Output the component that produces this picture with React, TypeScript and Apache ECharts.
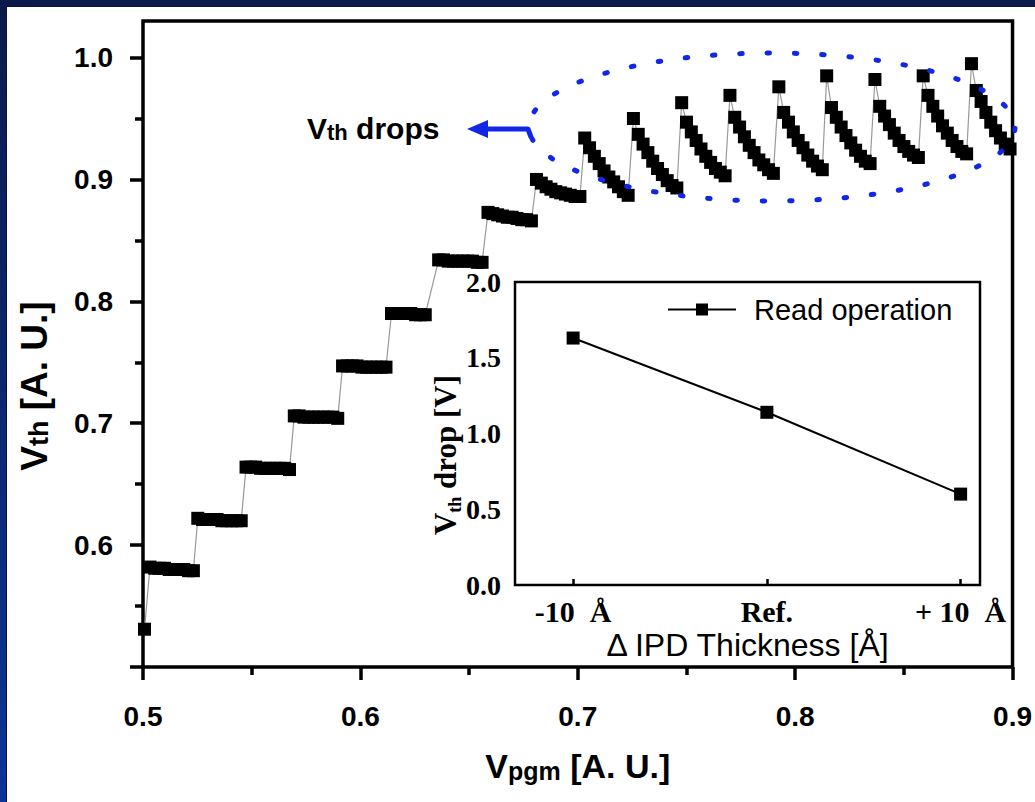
import React, { useEffect, useRef } from "react";
import * as echarts from "echarts";

// ---------- data ----------
// main plot: program voltage (x) vs threshold voltage (y), one group of read points per program pulse
const stepStartVpgm = [
  0.5007, 0.5032, 0.5252, 0.5474, 0.5696, 0.5918, 0.6143, 0.636, 0.6587, 0.681,
  0.7032, 0.7256, 0.7478, 0.77, 0.7925, 0.8145, 0.8367, 0.8589, 0.8811,
];
const readSpacingVpgm = 0.00222;
const stepVth: number[][] = [
  [0.531],
  [0.582, 0.581, 0.581, 0.581, 0.58, 0.58, 0.58, 0.58, 0.579, 0.579],
  [0.622, 0.621, 0.621, 0.621, 0.621, 0.62, 0.62, 0.62, 0.62, 0.62],
  [0.664, 0.664, 0.664, 0.663, 0.663, 0.663, 0.663, 0.663, 0.663, 0.662],
  [0.706, 0.706, 0.705, 0.705, 0.705, 0.705, 0.705, 0.705, 0.705, 0.704],
  [0.747, 0.747, 0.747, 0.747, 0.746, 0.746, 0.746, 0.746, 0.746, 0.746],
  [0.79, 0.79, 0.79, 0.79, 0.79, 0.789, 0.789, 0.789],
  [0.834, 0.834, 0.833, 0.833, 0.833, 0.833, 0.833, 0.833, 0.832, 0.832],
  [0.873, 0.872, 0.871, 0.87, 0.869, 0.869, 0.868, 0.867, 0.867, 0.866],
  [0.9, 0.897, 0.894, 0.892, 0.89, 0.889, 0.888, 0.887, 0.886, 0.886],
  [0.934, 0.926, 0.919, 0.913, 0.907, 0.902, 0.898, 0.894, 0.89, 0.887],
  [0.95, 0.937, 0.929, 0.922, 0.915, 0.909, 0.904, 0.899, 0.895, 0.893],
  [0.963, 0.947, 0.939, 0.932, 0.925, 0.919, 0.914, 0.909, 0.906, 0.903],
  [0.969, 0.951, 0.943, 0.935, 0.928, 0.922, 0.916, 0.912, 0.908, 0.905],
  [0.976, 0.955, 0.947, 0.939, 0.932, 0.926, 0.92, 0.915, 0.911, 0.908],
  [0.985, 0.959, 0.951, 0.943, 0.936, 0.93, 0.924, 0.919, 0.915, 0.913],
  [0.982, 0.96, 0.952, 0.945, 0.938, 0.932, 0.927, 0.923, 0.92, 0.918],
  [0.985, 0.969, 0.96, 0.952, 0.944, 0.938, 0.932, 0.927, 0.923, 0.921],
  [0.995, 0.973, 0.964, 0.955, 0.947, 0.94, 0.934, 0.929, 0.925, 0.922],
];
const mainXTicks = [0.5, 0.6, 0.7, 0.8, 0.9];
const mainYMajorTicks = [0.5, 0.6, 0.7, 0.8, 0.9, 1.0];
const mainYMinorTicks = [0.55, 0.65, 0.75, 0.85, 0.95];
const mainYTickLabels = [0.6, 0.7, 0.8, 0.9, 1.0];

// inset: Vth drop vs IPD thickness
const insetCategories = ["-10  Å", "Ref.", "+ 10  Å"];
const insetOffsets = [-10, 0, 10];
const insetVthDrop = [1.63, 1.14, 0.6];
const insetSeriesName = "Read operation";

// ---------- styling ----------
const SANS = '"Liberation Sans", Arial, sans-serif';
const SERIF = '"Liberation Serif", "Times New Roman", serif';
const BLUE = "#1226e8";

function buildOption(): echarts.EChartsOption {
  const mainData: number[][] = [];
  stepVth.forEach((vals, s) =>
    vals.forEach((v, i) => mainData.push([stepStartVpgm[s] + i * readSpacingVpgm, v]))
  );
  const insetData = insetOffsets.map((x, i) => [x, insetVthDrop[i]]);

  const tickLine = { color: "#000", width: 3.5 };

  return {
    animation: false,
    backgroundColor: "#ffffff",
    grid: [
      {
        left: 143, top: 21, width: 873, height: 646,
        show: true, borderColor: "#000", borderWidth: 3.5, backgroundColor: "transparent",
      },
      {
        left: 515, top: 282, width: 465, height: 303,
        show: true, borderColor: "#000", borderWidth: 2.5, backgroundColor: "#ffffff",
      },
    ],
    legend: {
      data: [insetSeriesName],
      left: 662, top: 290,
      itemWidth: 68, itemHeight: 15,
      selectedMode: false,
      textStyle: { fontFamily: SANS, fontSize: 29, color: "#000", padding: [0, 0, 0, 13] },
    },
    xAxis: [
      {
        type: "value", gridIndex: 0, min: 0.5, max: 0.9, interval: 0.1,
        axisLine: { show: false },
        axisTick: { show: true, length: 13, lineStyle: tickLine },
        minorTick: { show: true, splitNumber: 2, length: 8, lineStyle: tickLine },
        splitLine: { show: false },
        axisLabel: {
          customValues: mainXTicks,
          margin: 35, fontFamily: SANS, fontWeight: "bold", fontSize: 28, color: "#000",
          showMinLabel: true, showMaxLabel: true,
          formatter: (v: number) => v.toFixed(1),
        },
        name: "{v|V}{s|pgm}{v| [A. U.]}",
        nameLocation: "middle", nameGap: 82,
        nameTextStyle: {
          rich: {
            v: { fontFamily: SANS, fontWeight: "bold", fontSize: 34, lineHeight: 36, verticalAlign: "top", color: "#000" },
            s: { fontFamily: SANS, fontWeight: "bold", fontSize: 25, lineHeight: 25, verticalAlign: "top", padding: [9, 0, 0, 0], color: "#000" },
          },
        },
      },
      {
        type: "value", gridIndex: 1, min: -13, max: 11,
        axisLine: { show: false },
        axisTick: { show: true, inside: true, length: 6, customValues: insetOffsets, lineStyle: { color: "#000", width: 2.5 } },
        splitLine: { show: false },
        axisLabel: {
          customValues: insetOffsets,
          margin: 11, fontFamily: SERIF, fontWeight: "bold", fontSize: 30, color: "#000",
          formatter: (v: number) => insetCategories[insetOffsets.indexOf(v)] ?? "",
        },
        name: "Δ IPD Thickness [Å]",
        nameLocation: "middle", nameGap: 44,
        nameTextStyle: { fontFamily: SANS, fontSize: 32, color: "#000" },
      },
    ],
    yAxis: [
      {
        type: "value", gridIndex: 0, min: 0.5, max: 1.03, interval: 0.1,
        axisLine: { show: false },
        axisTick: { show: true, length: 13, customValues: mainYMajorTicks, lineStyle: tickLine },
        splitLine: { show: false },
        axisLabel: {
          customValues: mainYTickLabels,
          margin: 30, fontFamily: SANS, fontWeight: "bold", fontSize: 28, color: "#000",
          formatter: (v: number) => v.toFixed(1),
        },
      },
      {
        type: "value", gridIndex: 0, min: 0.5, max: 1.03, position: "left",
        axisLine: { show: false },
        axisTick: { show: true, length: 8, customValues: mainYMinorTicks, lineStyle: tickLine },
        axisLabel: { show: false },
        splitLine: { show: false },
      },
      {
        type: "value", gridIndex: 1, min: 0, max: 2, interval: 0.5,
        axisLine: { show: false },
        axisTick: { show: false },
        splitLine: { show: false },
        axisLabel: {
          margin: 14, fontFamily: SERIF, fontWeight: "bold", fontSize: 28, color: "#000",
          showMinLabel: true, showMaxLabel: true,
          formatter: (v: number) => v.toFixed(1),
        },
      },
    ],
    series: [
      {
        type: "line", name: "Vth", xAxisIndex: 0, yAxisIndex: 0,
        data: mainData,
        symbol: "rect", symbolSize: 13, showAllSymbol: true,
        itemStyle: { color: "#000" },
        lineStyle: { color: "#999999", width: 1.2 },
        clip: true, z: 3,
      },
      {
        type: "line", name: insetSeriesName, xAxisIndex: 1, yAxisIndex: 2,
        data: insetData,
        symbol: "rect", symbolSize: 13,
        itemStyle: { color: "#000" },
        lineStyle: { color: "#000", width: 2 },
        z: 5,
      },
    ],
    graphic: [
      // slide frame
      {
        type: "rect", z: 100, silent: true,
        shape: { x: 0, y: 0, width: 6, height: 802 },
        style: { fill: new echarts.graphic.LinearGradient(0, 0, 0, 1, [
          { offset: 0, color: "#0b1a4a" }, { offset: 1, color: "#0d3596" },
        ]) },
      },
      {
        type: "rect", z: 100, silent: true,
        shape: { x: 0, y: 0, width: 1035, height: 6 },
        style: { fill: "#0b1a4c" },
      },
      { type: "line", z: 100, silent: true, shape: { x1: 6.5, y1: 6, x2: 6.5, y2: 802 }, style: { stroke: "#0a1236", lineWidth: 1 } },
      { type: "line", z: 100, silent: true, shape: { x1: 6, y1: 6.5, x2: 1035, y2: 6.5 }, style: { stroke: "#0a1236", lineWidth: 1 } },
      // y axis title
      {
        type: "text", z: 50, x: 35, y: 386, rotation: Math.PI / 2,
        style: {
          text: "{v|V}{s|th}{v| [A. U.]}",
          align: "center", verticalAlign: "middle",
          rich: {
            v: { fontFamily: SANS, fontWeight: "bold", fontSize: 37, lineHeight: 38, verticalAlign: "top", fill: "#000" },
            s: { fontFamily: SANS, fontWeight: "bold", fontSize: 27, lineHeight: 27, verticalAlign: "top", padding: [9, 0, 0, 0], fill: "#000" },
          },
        },
      },
      // inset y axis title
      {
        type: "text", z: 50, x: 446, y: 455, rotation: Math.PI / 2,
        style: {
          text: "{v|V}{s|th}{v| drop [V]}",
          align: "center", verticalAlign: "middle",
          rich: {
            v: { fontFamily: SERIF, fontWeight: "bold", fontSize: 31, lineHeight: 32, verticalAlign: "top", fill: "#000" },
            s: { fontFamily: SERIF, fontWeight: "bold", fontSize: 18, lineHeight: 18, verticalAlign: "top", padding: [16, 0, 0, 0], fill: "#000" },
          },
        },
      },
      // annotation text
      {
        type: "text", z: 50, x: 307, y: 129,
        style: {
          text: "{v|V}{s|th}{v| drops}",
          align: "left", verticalAlign: "middle",
          rich: {
            v: { fontFamily: SANS, fontWeight: "bold", fontSize: 30, lineHeight: 32, verticalAlign: "top", fill: "#000" },
            s: { fontFamily: SANS, fontWeight: "bold", fontSize: 22, lineHeight: 22, verticalAlign: "top", padding: [8, 0, 0, 0], fill: "#000" },
          },
        },
      },
      // dotted ellipse around the Vth drops
      {
        type: "ellipse", z: 60, silent: true,
        shape: { cx: 772, cy: 127, rx: 243, ry: 74 },
        style: { fill: "none", stroke: BLUE, lineWidth: 5, lineDash: [2.5, 24.8], lineDashOffset: 11, lineCap: "round" },
      },
      // arrow
      {
        type: "polyline", z: 60, silent: true,
        shape: { points: [[484, 129], [528, 129], [531, 137]] },
        style: { stroke: BLUE, lineWidth: 5, fill: "none", lineJoin: "round" },
      },
      {
        type: "polygon", z: 60, silent: true,
        shape: { points: [[467, 129], [488, 120], [488, 138]] },
        style: { fill: BLUE },
      },
    ],
  } as echarts.EChartsOption;
}

export default function App() {
  const ref = useRef<HTMLDivElement>(null);
  useEffect(() => {
    if (!ref.current) return;
    const chart = echarts.init(ref.current, null, { renderer: "svg" });
    chart.setOption(buildOption());
    return () => chart.dispose();
  }, []);
  return (
    <div
      ref={ref}
      style={{ position: "fixed", left: 0, top: 0, width: 1035, height: 802, background: "#fff" }}
    />
  );
}
